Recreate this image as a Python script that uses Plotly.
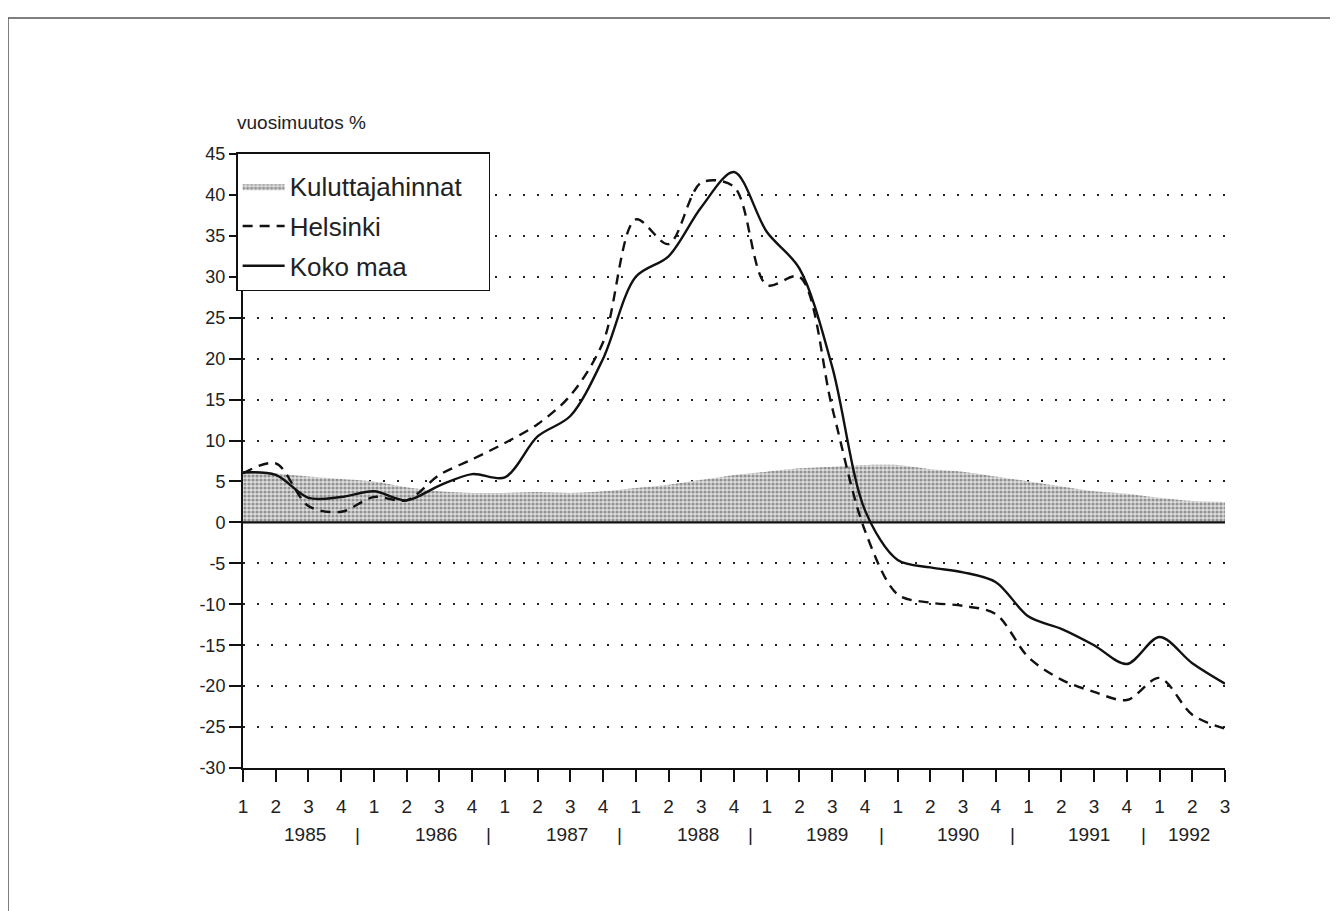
import plotly.graph_objects as go

quarters = ["1", "2", "3", "4"] * 7 + ["1", "2", "3"]
years = ["1985", "1986", "1987", "1988", "1989", "1990", "1991", "1992"]
y_ticks = list(range(-30, 50, 5))
y_tick_labels = [str(v).replace("\u2212", "-") for v in y_ticks]

kuluttajahinnat = [6.3, 6.0, 5.6, 5.3, 5.0, 4.3, 3.8, 3.6, 3.6, 3.7, 3.6, 3.8, 4.2, 4.6, 5.2, 5.8,
                   6.2, 6.6, 6.8, 7.0, 7.0, 6.5, 6.2, 5.6, 5.0, 4.4, 3.8, 3.5, 3.0, 2.6, 2.5]
helsinki = [6.0, 7.2, 2.0, 1.3, 3.1, 2.7, 5.8, 7.7, 9.7, 12.0, 15.5, 22.0, 37.0, 34.0, 41.5, 41.0,
            29.0, 30.0, 14.0, -1.0, -8.8, -9.8, -10.2, -11.2, -16.5, -19.2, -20.7, -21.7, -19.0, -23.5, -25.2]
koko_maa = [6.1, 5.8, 3.0, 3.1, 3.8, 2.7, 4.5, 5.9, 5.5, 10.5, 13.0, 20.0, 30.0, 32.5, 38.5, 42.8,
            35.5, 31.0, 19.0, 1.5, -4.6, -5.5, -6.1, -7.3, -11.5, -13.0, -15.0, -17.3, -14.0, -17.2, -19.7]

x = list(range(len(quarters)))
FONT = "Liberation Sans, Arial, Helvetica, sans-serif"
PAD = "\u00a0" * 3

# page offset of 8px (browser body margin) is compensated in the margins
ML, MT, PW, PH = 235, 146, 982, 614
W, H = 1330, 903

fig = go.Figure()
fig.add_trace(go.Scatter(
    x=x, y=kuluttajahinnat, name="Kuluttajahinnat" + PAD, mode="lines",
    line=dict(width=0, color="#999999", shape="spline", smoothing=0.6),
    fill="tozeroy", fillcolor="#d0d0d0",
    fillpattern=dict(shape=".", fgcolor="#444444", bgcolor="#dedede", size=4, solidity=0.5),
    legendgroup="a",
))
fig.add_trace(go.Scatter(
    x=x, y=helsinki, name="Helsinki", mode="lines",
    line=dict(width=2.4, color="#111111", dash="10px,7px", shape="spline", smoothing=0.9),
    legendgroup="b",
))
fig.add_trace(go.Scatter(
    x=x, y=koko_maa, name="Koko maa", mode="lines",
    line=dict(width=2.4, color="#111111", shape="spline", smoothing=0.9),
    legendgroup="c",
))

annotations = [
    dict(text="vuosimuutos %", x=-0.008, y=1.0505, xref="paper", yref="paper",
         xanchor="left", yanchor="middle", showarrow=False, font=dict(size=19, color="#222")),
]
year_pos = [1.9, 5.9, 9.9, 13.9, 17.85, 21.85, 25.85, 28.9]
for yr, p in zip(years, year_pos):
    annotations.append(dict(text=yr, x=p, y=-0.109, xref="x", yref="paper", showarrow=False,
                            xanchor="center", yanchor="middle", font=dict(size=19, color="#222")))
for k in range(7):
    annotations.append(dict(text="|", x=4 * k + 3.5, y=-0.109, xref="x", yref="paper", showarrow=False,
                            xanchor="center", yanchor="middle", font=dict(size=19, color="#222")))

fig.update_layout(
    width=W, height=H,
    margin=dict(l=ML, r=W - ML - PW, t=MT, b=H - MT - PH),
    paper_bgcolor="white", plot_bgcolor="white",
    font=dict(family=FONT, size=18, color="#222"),
    showlegend=True,
    legend=dict(x=-0.007, y=1.003, xanchor="left", yanchor="top",
                bgcolor="white", bordercolor="#111", borderwidth=1.5,
                font=dict(size=26), traceorder="grouped", tracegroupgap=3,
                itemwidth=42,
                title=dict(text=" ", font=dict(size=7))),
    annotations=annotations,
    shapes=[
        dict(type="rect", xref="paper", yref="paper",
             x0=(8 - 243) / PW, x1=(1360 - 243) / PW,
             y0=(768 - 930) / PH, y1=(768 - 18) / PH,
             line=dict(color="#555", width=1.5), fillcolor="rgba(0,0,0,0)", layer="below"),
        dict(type="line", xref="paper", yref="y", x0=0, x1=1, y0=0, y1=0,
             line=dict(color="#111", width=2.2), layer="above"),
    ],
)
fig.update_xaxes(
    range=[0, 30], tickmode="array", tickvals=x, ticktext=quarters,
    showgrid=False, zeroline=False, showline=True, linecolor="#111", linewidth=2,
    ticks="outside", ticklen=12, tickwidth=1.5, tickcolor="#111",
    ticklabelstandoff=8, tickfont=dict(size=19),
)
fig.update_yaxes(
    range=[-30, 45], tickmode="array", tickvals=y_ticks, ticktext=y_tick_labels,
    showgrid=True, gridcolor="#222", gridwidth=2, griddash="2px,12px",
    zeroline=False,
    showline=True, linecolor="#111", linewidth=2,
    ticks="outside", ticklen=12, tickwidth=1.5, tickcolor="#111",
    tickfont=dict(size=18),
)

fig.write_html("out.html")
